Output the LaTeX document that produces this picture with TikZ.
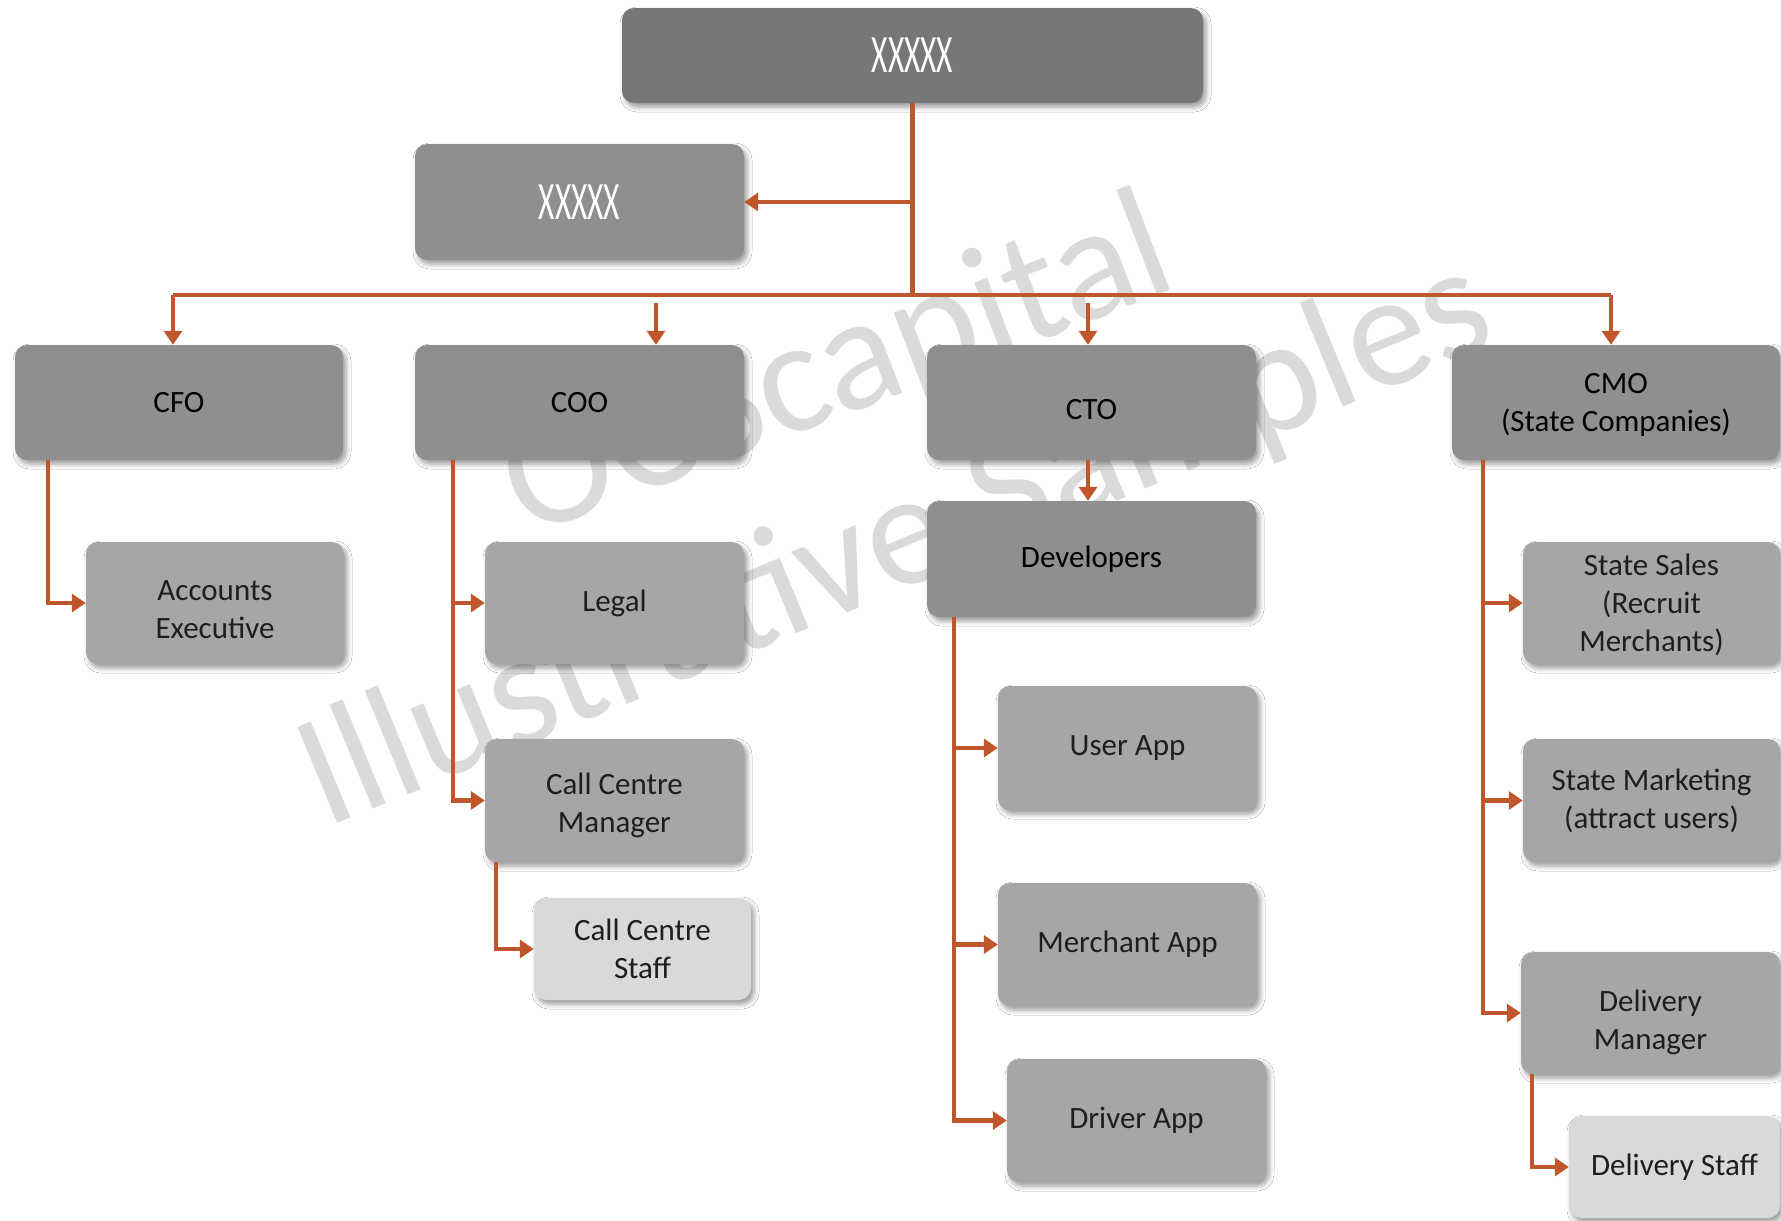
\documentclass[tikz,border=0pt]{standalone}
\usepackage{fontspec}
\setmainfont{Carlito}
\usetikzlibrary{arrows.meta,shadows.blur,calc}
\definecolor{topgray}{HTML}{777777}
\definecolor{midgray}{HTML}{8F8F8F}
\definecolor{boxgray}{HTML}{A6A6A6}
\definecolor{lightgray}{HTML}{D9D9D9}
\definecolor{wmgray}{HTML}{DADADA}
\definecolor{linkcol}{HTML}{C0562C}
\definecolor{txtdark}{HTML}{1E1E1E}
\newcommand{\xxlabel}{\scalebox{0.58}[1]{\fontsize{54}{60}\selectfont XXXXX}}
\begin{document}
\begin{tikzpicture}[x=1pt,y=-1pt,
  box/.style={rounded corners=12pt, align=center, inner sep=0pt,
    font=\fontsize{31}{38}\selectfont, text=txtdark,
    blur shadow={shadow xshift=3pt, shadow yshift=-4pt,
      shadow blur radius=5pt, shadow opacity=40}},
  headbox/.style={box, fill=midgray, text=black},
  subbox/.style={box, fill=boxgray},
  leafbox/.style={box, fill=lightgray},
  wire/.style={draw=linkcol, line width=4.5pt},
  link/.style={wire, -{Triangle[length=14pt,width=18pt]}},
  watermark/.style={text=wmgray, inner sep=0pt,
    font=\fontsize{162}{170}\selectfont}]
\useasboundingbox (0,0) rectangle (1781,1221);
\fill[white] (0,0) rectangle (1781,1221);

% faint watermark behind the chart
\node[watermark, rotate=21, anchor=base east] (wmA) at (1182,286) {OCScapital};
\node[watermark, rotate=22.5, anchor=base west] (wmB) at (325,829) {Illustrative Samples};

% top of the chart
\node[box, fill=topgray, text=white, minimum width=581pt, minimum height=95pt] (top) at (912.5,55.5) {\xxlabel};
\node[box, fill=midgray, text=white, minimum width=329pt, minimum height=116pt] (sec) at (579.5,202) {\xxlabel};

% executives
\node[headbox, minimum width=328pt, minimum height=115pt] (cfo) at (179,402.5) {CFO};
\node[headbox, minimum width=329pt, minimum height=115pt] (coo) at (579.5,402.5) {COO};
\node[headbox, minimum width=329pt, minimum height=115pt, text height=34pt] (cto) at (1091.5,402.5) {CTO};
\node[headbox, minimum width=328pt, minimum height=115pt, text height=63pt] (cmo) at (1616,402.5) {CMO\\(State Companies)};

% finance
\node[subbox, minimum width=258pt, minimum height=122pt, text height=72pt] (acc) at (215,603) {Accounts\\Executive};

% operations
\node[subbox, minimum width=259pt, minimum height=122pt] (legal) at (614.5,603) {Legal};
\node[subbox, minimum width=259pt, minimum height=123pt, text height=70pt] (ccm) at (614.5,800.5) {Call Centre\\Manager};
\node[leafbox, minimum width=217pt, minimum height=102pt] (ccs) at (642.5,949) {Call Centre\\Staff};

% technology
\node[headbox, minimum width=329pt, minimum height=116pt] (dev) at (1091.5,559) {Developers};
\node[subbox, minimum width=259pt, minimum height=124pt] (user) at (1127.5,748) {User App};
\node[subbox, minimum width=259pt, minimum height=123pt] (merch) at (1127.5,944.5) {Merchant App};
\node[subbox, minimum width=259pt, minimum height=123pt] (driver) at (1136.5,1120.5) {Driver App};

% marketing
\node[subbox, minimum width=257pt, minimum height=122pt, text height=102pt] (sales) at (1651.5,603) {State Sales\\(Recruit\\Merchants)};
\node[subbox, minimum width=257pt, minimum height=123pt] (mkt) at (1651.5,800.5) {State Marketing\\(attract users)};
\node[subbox, minimum width=259pt, minimum height=122pt, text height=78pt] (dm) at (1650.5,1013) {Delivery\\Manager};
\node[leafbox, minimum width=211pt, minimum height=102pt] (ds) at (1674.5,1167) {Delivery Staff};

% connectors from the top
\coordinate (busL) at (173,295);
\coordinate (busR) at (1611,295);
\coordinate (cooTap) at (656,303);
\coordinate (ctoTap) at (1088,303);
\draw[wire] (top.south) -- (top.south |- busL);
\draw[link] (top.south |- sec.east) -- (sec.east);
\draw[wire] (busL) -- (busR);
\draw[link] (busL) -- (busL |- cfo.north);
\draw[link] (cooTap) -- (cooTap |- coo.north);
\draw[link] (ctoTap) -- (ctoTap |- cto.north);
\draw[link] (busR) -- (busR |- cmo.north);

% finance branch
\draw[link] ($(cfo.south west)+(33,0)$) |- (acc.west);

% operations branch
\draw[link] ($(coo.south west)+(38,0)$) |- (legal.west);
\draw[link] ($(coo.south west)+(38,0)$) |- (ccm.west);
\draw[link] ($(ccm.south west)+(11,0)$) |- (ccs.west);

% technology branch
\draw[link] (cto.south -| ctoTap) -- (dev.north -| ctoTap);
\draw[link] ($(dev.south west)+(27,0)$) |- (user.west);
\draw[link] ($(dev.south west)+(27,0)$) |- (merch.west);
\draw[link] ($(dev.south west)+(27,0)$) |- (driver.west);

% marketing branch
\draw[link] ($(cmo.south west)+(31,0)$) |- (sales.west);
\draw[link] ($(cmo.south west)+(31,0)$) |- (mkt.west);
\draw[link] ($(cmo.south west)+(31,0)$) |- (dm.west);
\draw[link] ($(dm.south west)+(11,0)$) |- (ds.west);
\end{tikzpicture}
\end{document}
